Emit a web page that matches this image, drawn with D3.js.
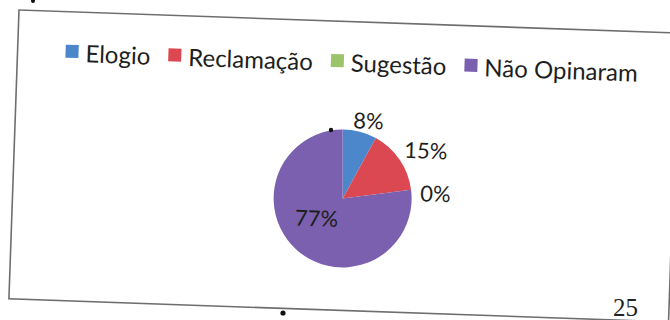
<!DOCTYPE html>
<html>
<head>
<meta charset="utf-8">
<script src="https://cdn.jsdelivr.net/npm/d3@7"></script>
<style>
  html, body { margin: 0; padding: 0; background: #fff; }
  svg { display: block; }
</style>
</head>
<body>
<svg id="chart" width="670" height="320"></svg>
<script>
// Opinion categories and their shares (percent)
const categories = ["Elogio", "Reclamação", "Sugestão", "Não Opinaram"];
const values = [8, 15, 0, 77];
const valueLabels = ["8%", "15%", "0%", "77%"];
const pageNumber = "25";

const colors = ["#4d87cb", "#dc4852", "#9cc46a", "#7a60ae"];

const svg = d3.select("#chart");

// The printed page sits slightly tilted
const tilt = 2;
const page = svg.append("g").attr("transform", `translate(19,10) rotate(${tilt})`);

// Chart frame
page.append("rect")
  .attr("x", 0).attr("y", 0)
  .attr("width", 660).attr("height", 289)
  .attr("fill", "none")
  .attr("stroke", "#6e6e6e")
  .attr("stroke-width", 1.6);

// Legend
const font = "Lato, 'Open Sans', sans-serif";
const legend = page.append("g").attr("transform", "translate(48,33)");
let lx = 0;
categories.forEach((c, i) => {
  const item = legend.append("g").attr("transform", `translate(${lx},0)`);
  item.append("rect")
    .attr("x", 0).attr("y", 0)
    .attr("width", 13).attr("height", 13)
    .attr("fill", colors[i]);
  const t = item.append("text")
    .attr("x", 20).attr("y", 17)
    .attr("font-family", font)
    .attr("font-size", 24)
    .attr("fill", "#1e1e1e")
    .text(c);
  lx += 20 + t.node().getComputedTextLength() + 18;
});

// Pie (start angle offsets the page tilt so the first slice starts upright)
const cx = 330, cy = 177, r = 69;
const offset = -tilt * Math.PI / 180;
const pieG = page.append("g").attr("transform", `translate(${cx},${cy})`);
const arcs = d3.pie().sort(null).value(d => d)
  .startAngle(offset).endAngle(2 * Math.PI + offset)(values);
const arc = d3.arc().innerRadius(0).outerRadius(r);

pieG.selectAll("path.slice")
  .data(arcs)
  .enter().append("path")
  .attr("class", "slice")
  .attr("d", arc)
  .attr("fill", (d, i) => colors[i]);

// Data labels: the largest slice is labelled inside, the rest outside
const maxVal = d3.max(values);
const labelBias = 4 * Math.PI / 180;
arcs.forEach((d, i) => {
  const t = pieG.append("text")
    .attr("font-family", font)
    .attr("font-size", 22)
    .attr("fill", "#1e1e1e")
    .attr("text-anchor", "middle")
    .attr("dominant-baseline", "central")
    .text(valueLabels[i]);
  const a = (d.startAngle + d.endAngle) / 2 + labelBias * (values[i] === maxVal ? 3 : 1);
  const hw = t.node().getComputedTextLength() / 2;
  const dist = values[i] === maxVal
    ? r * 0.47
    : r + 9 + hw * Math.abs(Math.sin(a));
  t.attr("x", dist * Math.sin(a)).attr("y", -dist * Math.cos(a));
});

// Page number
svg.append("text")
  .attr("x", 613).attr("y", 316)
  .attr("font-family", "'Liberation Serif', 'DejaVu Serif', serif")
  .attr("font-size", 25)
  .attr("fill", "#222")
  .text(pageNumber);

// Small ink specks on the page
[[331, 130, 2.2], [283, 313, 2.6], [33, 1, 2]].forEach(([x, y, rr]) => {
  svg.append("circle").attr("cx", x).attr("cy", y).attr("r", rr).attr("fill", "#111");
});
</script>
</body>
</html>
